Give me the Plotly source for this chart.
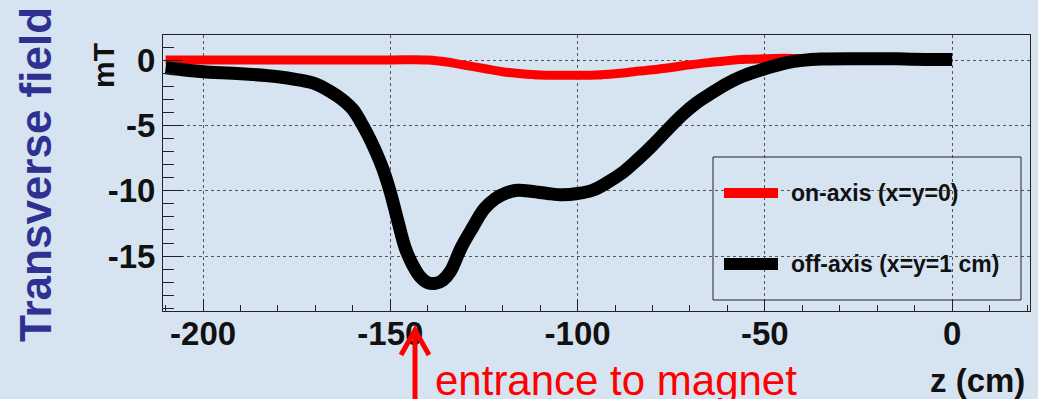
import plotly.graph_objects as go

# Transverse magnetic field along the beam line (z in cm, field in mT)
z_off = [-210, -205, -200, -190, -180, -175, -170, -166, -163, -160, -158, -156,
         -154, -152, -150, -148, -146, -144, -142, -140, -138, -136, -134, -131,
         -128, -125, -122, -119, -116, -112, -108, -104, -100, -96, -92, -88,
         -84, -80, -76, -72, -68, -64, -60, -56, -52, -48, -44, -40, -35, -25,
         -15, -10, 0]
b_off = [-0.55, -0.72, -0.85, -1.0, -1.23, -1.45, -1.78, -2.38, -2.95, -3.75,
         -4.65, -5.7, -6.9, -8.3, -10.1, -12.3, -14.4, -15.7, -16.6, -17.05,
         -17.1, -16.85, -16.2, -14.3, -12.8, -11.4, -10.6, -10.15, -9.95, -10.05,
         -10.2, -10.3, -10.2, -9.95, -9.35, -8.6, -7.6, -6.5, -5.3, -4.15, -3.2,
         -2.45, -1.75, -1.2, -0.8, -0.45, -0.15, 0.02, 0.12, 0.15, 0.15, 0.1,
         0.08]

z_on = [-210, -180, -150, -140, -135, -130, -125, -120, -115, -110, -105, -100,
        -95, -90, -85, -80, -75, -70, -65, -60, -55, -50, -45, -40, -20, 0]
b_on = [0.05, 0.05, 0.06, 0.05, -0.1, -0.35, -0.6, -0.85, -1.0, -1.1, -1.12,
        -1.12, -1.1, -1.0, -0.85, -0.7, -0.52, -0.32, -0.15, 0.0, 0.1, 0.15,
        0.18, 0.15, 0.05, 0.05]

series_names = ["on-axis (x=y=0)", "off-axis (x=y=1 cm)"]
x_ticks = [-200, -150, -100, -50, 0]
y_ticks = [0, -5, -10, -15]

BG = "#d6e4f1"
W, H = 1038, 399
ML, MR, MT, MB = 163, 8, 35, 88
PW, PH = W - ML - MR, H - MT - MB
FONT = "Liberation Sans, Arial, sans-serif"


def px(x):
    return (x - ML) / PW


def py(y):
    return (H - MB - y) / PH


fig = go.Figure()
fig.add_trace(go.Scatter(x=z_on, y=b_on, mode="lines", name=series_names[0],
                         line=dict(color="#ff0000", width=9, shape="spline"),
                         showlegend=False))
fig.add_trace(go.Scatter(x=z_off, y=b_off, mode="lines", name=series_names[1],
                         line=dict(color="#000000", width=13, shape="spline"),
                         showlegend=False))

tick_font = dict(family=FONT, size=33, color="#111111", weight="bold")

fig.update_xaxes(range=[-210.7, 20.8], tickvals=x_ticks,
                 ticktext=[str(v) for v in x_ticks], tickfont=tick_font,
                 ticks="inside", ticklen=12, tickcolor="#222", tickwidth=1,
                 ticklabelstandoff=-7,
                 showline=True, linecolor="#222", linewidth=1, mirror=True,
                 showgrid=True, gridcolor="#555", griddash="dot", gridwidth=1,
                 zeroline=False,
                 minor=dict(dtick=10, tick0=0, ticks="inside", ticklen=6,
                            tickcolor="#222", showgrid=False))
fig.update_yaxes(range=[-19.22, 1.97], tickvals=y_ticks,
                 ticktext=[str(v) for v in y_ticks], tickfont=tick_font,
                 ticks="inside", ticklen=20, tickcolor="#222", tickwidth=1,
                 showline=True, linecolor="#222", linewidth=1, mirror=True,
                 showgrid=True, gridcolor="#555", griddash="dot", gridwidth=1,
                 zeroline=False,
                 minor=dict(dtick=1, tick0=0, ticks="inside", ticklen=11,
                            tickcolor="#222", showgrid=False))

shapes = []
# legend frame and samples
shapes.append(dict(type="rect", xref="paper", yref="paper",
                   x0=px(713), x1=px(1021), y0=py(300), y1=py(157),
                   line=dict(color="#222", width=1), fillcolor="rgba(0,0,0,0)"))
shapes.append(dict(type="line", xref="paper", yref="paper",
                   x0=px(724), x1=px(778), y0=py(193), y1=py(193),
                   line=dict(color="#ff0000", width=10)))
shapes.append(dict(type="line", xref="paper", yref="paper",
                   x0=px(724), x1=px(778), y0=py(264), y1=py(264),
                   line=dict(color="#000000", width=12)))
# arrow marking the magnet entrance
ax = px(415)
shapes.append(dict(type="line", xref="paper", yref="paper",
                   x0=ax, x1=ax, y0=py(331), y1=py(405),
                   line=dict(color="#ff0000", width=5)))
shapes.append(dict(type="path", xref="paper", yref="paper",
                   path=f"M {px(401)},{py(355)} L {ax},{py(330)} L {px(429)},{py(355)}",
                   line=dict(color="#ff0000", width=5)))

legend_font = dict(family=FONT, size=23, color="#111111", weight="bold")
annotations = [
    dict(text=series_names[0], xref="paper", yref="paper", x=px(789), y=py(193),
         xanchor="left", yanchor="middle", showarrow=False, font=legend_font),
    dict(text=series_names[1], xref="paper", yref="paper", x=px(789), y=py(264),
         xanchor="left", yanchor="middle", showarrow=False, font=legend_font),
    dict(text="mT", xref="paper", yref="paper", x=px(103), y=py(66),
         xanchor="center", yanchor="middle", textangle=-90, showarrow=False,
         font=dict(family=FONT, size=30, color="#111111", weight="bold")),
    dict(text="Transverse field", xref="paper", yref="paper", x=px(35), y=py(175),
         xanchor="center", yanchor="middle", textangle=-90, showarrow=False,
         font=dict(family=FONT, size=44, color="#2e3192", weight="bold")),
    dict(text="z (cm)", xref="paper", yref="paper", x=px(977), y=py(380),
         xanchor="center", yanchor="middle", showarrow=False,
         font=dict(family=FONT, size=33, color="#111111", weight="bold")),
    dict(text="entrance to magnet", xref="paper", yref="paper", x=px(433),
         y=py(380), xanchor="left", yanchor="middle", showarrow=False,
         font=dict(family=FONT, size=42, color="#ff0000")),
]

fig.update_layout(width=W, height=H, margin=dict(l=ML, r=MR, t=MT, b=MB),
                  paper_bgcolor=BG, plot_bgcolor=BG, shapes=shapes,
                  annotations=annotations, showlegend=False)

fig.write_html("out.html")
